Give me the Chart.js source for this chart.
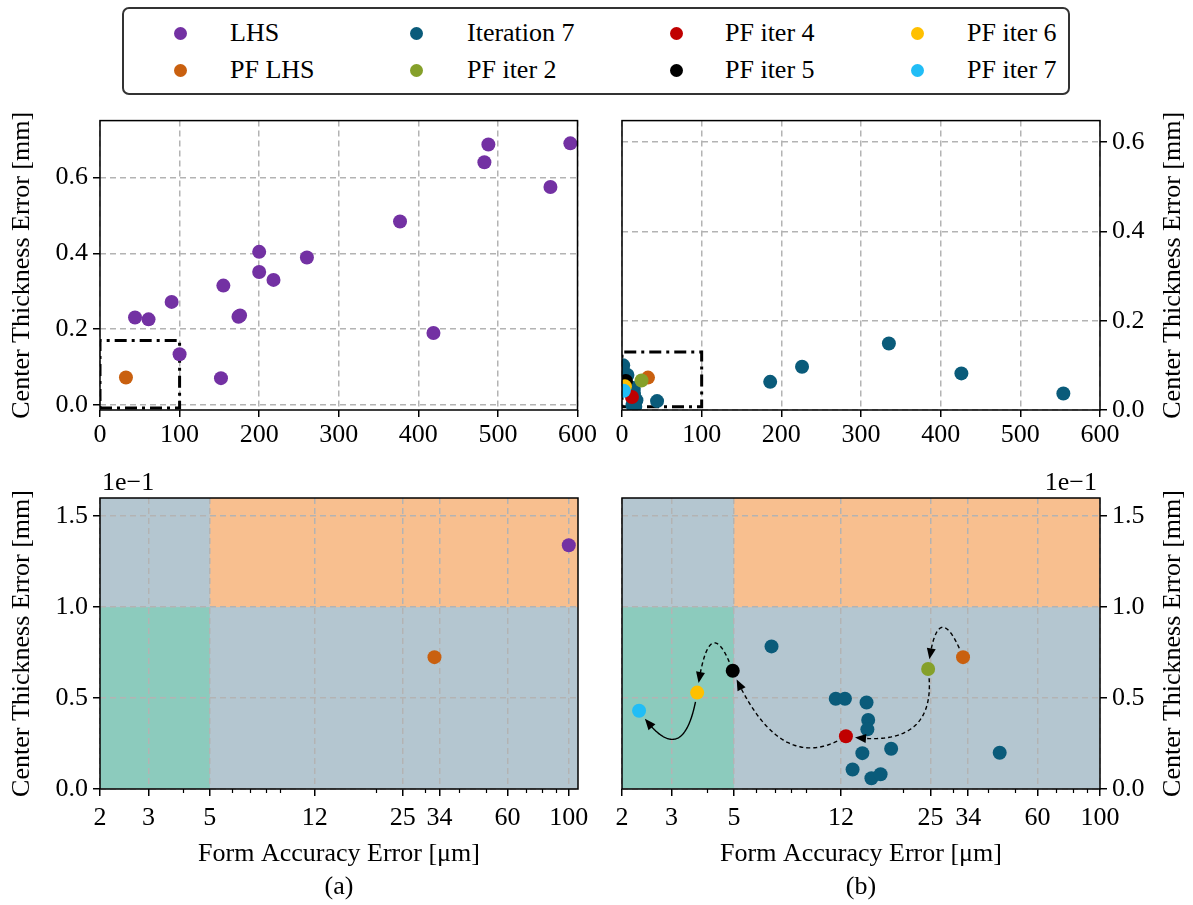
<!DOCTYPE html>
<html>
<head>
<meta charset="utf-8">
<title>Form accuracy vs center thickness error</title>
<script src="https://cdn.jsdelivr.net/npm/chart.js@4.4.1/dist/chart.umd.min.js"></script>
<style>
  html, body { margin: 0; padding: 0; background: #fff; }
  body { position: relative; width: 1193px; height: 905px; overflow: hidden; font-family: "Liberation Serif", "Times New Roman", serif; }
  .box { position: absolute; }
  #legend { position: absolute; left: 122px; top: 7px; width: 944px; height: 84px; border: 2px solid #333; border-radius: 7px; }
  .entry { position: absolute; font-size: 26px; line-height: 30px; white-space: nowrap; color: #000; }
  .dot { position: absolute; width: 13px; height: 13px; border-radius: 50%; }
</style>
</head>
<body>
<div id="legend"></div>
<div class="box" style="left:0;top:100px;width:600px;height:345px"><canvas id="topLeft"></canvas></div>
<div class="box" style="left:600px;top:100px;width:593px;height:345px"><canvas id="topRight"></canvas></div>
<div class="box" style="left:0;top:470px;width:600px;height:435px"><canvas id="bottomLeft"></canvas></div>
<div class="box" style="left:600px;top:470px;width:593px;height:435px"><canvas id="bottomRight"></canvas></div>
<script>
// form accuracy error in µm, center thickness error in mm
const lhsX = [44, 61, 90, 100, 152, 155, 174, 176, 200, 200, 218, 260, 377, 419, 483, 488, 566, 591];
const lhsY = [0.231, 0.226, 0.272, 0.134, 0.071, 0.315, 0.233, 0.236, 0.404, 0.351, 0.330, 0.389, 0.484, 0.190, 0.640, 0.687, 0.575, 0.690];

const iter7X = [1.5, 0.8, 6.8, 11.5, 12.4, 14.8, 15.0, 14.9, 14.3, 18.1, 13.2, 15.4, 16.6, 44, 186, 226, 335, 426, 554];
const iter7Y = [0.100, 0.092, 0.0784, 0.0496, 0.0496, 0.0476, 0.038, 0.0328, 0.0197, 0.0221, 0.0107, 0.0059, 0.0081, 0.0199, 0.063, 0.097, 0.149, 0.082, 0.037];

const pfLhsX = [32.6],   pfLhsY = [0.0725];
const pfIter2X = [24.5], pfIter2Y = [0.066];
const pfIter4X = [12.5], pfIter4Y = [0.029];
const pfIter5X = [4.95], pfIter5Y = [0.065];
const pfIter6X = [3.7],  pfIter6Y = [0.053];
const pfIter7X = [2.3],  pfIter7Y = [0.043];

// axis ticks
const topXTicks = [0, 100, 200, 300, 400, 500, 600];
const topYTicks = [0, 0.2, 0.4, 0.6];
const logTicks = [2, 3, 5, 12, 25, 34, 60, 100];
const logMinorTicks = [4, 6, 7, 8, 9, 20, 30, 40, 50, 70, 80, 90];
const zoomYTicks = [0, 0.5, 1.0, 1.5];

// tolerance limits for the shaded regions
const formLimit = 5;      // µm
const thickLimit = 0.1;   // mm

// dash-dot boxes marking the zoomed area
const boxX = [0, 100];
const boxTopLeftY = [-0.008, 0.17];
const boxTopRightY = [0.007, 0.13];

// bottom plots show thickness in units of 1e-1 mm
const ZOOM = 10;

const FONT = '"Liberation Serif", "Times New Roman", serif';
Chart.defaults.font.family = FONT;
Chart.defaults.font.size = 26;
Chart.defaults.color = '#000';
Chart.defaults.animation = false;

const series = {
  lhs:    { label: 'LHS',         color: '#7331a3', x: lhsX,     y: lhsY },
  pfLhs:  { label: 'PF LHS',      color: '#c9600f', x: pfLhsX,   y: pfLhsY },
  iter7:  { label: 'Iteration 7', color: '#0a5b7a', x: iter7X,   y: iter7Y },
  pf2:    { label: 'PF iter 2',   color: '#85a02a', x: pfIter2X, y: pfIter2Y },
  pf4:    { label: 'PF iter 4',   color: '#c00000', x: pfIter4X, y: pfIter4Y },
  pf5:    { label: 'PF iter 5',   color: '#000000', x: pfIter5X, y: pfIter5Y },
  pf6:    { label: 'PF iter 6',   color: '#ffc000', x: pfIter6X, y: pfIter6Y },
  pf7:    { label: 'PF iter 7',   color: '#21bdf6', x: pfIter7X, y: pfIter7Y }
};

// legend (matplotlib style, 4 columns filled top to bottom)
const legendOrder = ['lhs', 'pfLhs', 'iter7', 'pf2', 'pf4', 'pf5', 'pf6', 'pf7'];
const legendDotX = [180, 416, 676, 917];
const legendTextX = [230, 467, 725, 967];
const legendRowY = [33, 70];
const legendEl = document.getElementById('legend');
legendOrder.forEach((key, i) => {
  const col = Math.floor(i / 2), row = i % 2;
  const dot = document.createElement('div');
  dot.className = 'dot';
  dot.style.background = series[key].color;
  dot.style.left = (legendDotX[col] - 6.5 - 124) + 'px';
  dot.style.top = (legendRowY[row] - 6.5 - 9) + 'px';
  legendEl.appendChild(dot);
  const txt = document.createElement('div');
  txt.className = 'entry';
  txt.textContent = series[key].label;
  txt.style.left = (legendTextX[col] - 124) + 'px';
  txt.style.top = (legendRowY[row] - 15 - 9) + 'px';
  legendEl.appendChild(txt);
});

function scatterSet(key, k, order) {
  const s = series[key];
  return {
    type: 'scatter', label: s.label, order: order,
    data: s.x.map((x, i) => ({ x: x, y: s.y[i] * k })),
    backgroundColor: s.color, borderWidth: 0, pointRadius: 7, pointHoverRadius: 7
  };
}

function boxSet(bx, by) {
  return {
    type: 'line', label: 'zoom', order: 20,
    data: [{x: bx[0], y: by[0]}, {x: bx[1], y: by[0]}, {x: bx[1], y: by[1]}, {x: bx[0], y: by[1]}, {x: bx[0], y: by[0]}],
    borderColor: '#000', borderWidth: 3, borderDash: [12, 5, 3, 5], pointRadius: 0, fill: false, tension: 0
  };
}

const GRID = '#b3b3b3';
function gridOpts() {
  return { color: GRID, lineWidth: 1.5, tickColor: '#000', tickWidth: 1.5, tickLength: 7 };
}
const tickFont = { color: '#000', font: { size: 26 }, autoSkip: false, maxRotation: 0, minRotation: 0 };

function linearAxis(min, max, ticks, fmt, pos, size) {
  const horiz = pos === 'bottom';
  return {
    type: 'linear', position: pos, min: min, max: max,
    afterBuildTicks: s => { s.ticks = ticks.map(v => ({ value: v })); },
    afterFit: s => { if (horiz) s.height = size; else s.width = size; },
    ticks: Object.assign({}, tickFont, { padding: horiz ? 3 : 5, callback: fmt }),
    grid: gridOpts(),
    border: { display: false, dash: [6, 4] }
  };
}

function logAxis(max, label) {
  return {
    type: 'logarithmic', position: 'bottom', min: 2, max: max,
    afterBuildTicks: s => { s.ticks = logTicks.map(v => ({ value: v })); },
    afterFit: s => { s.height = 116; },
    ticks: Object.assign({}, tickFont, { padding: 7, callback: v => String(v) }),
    grid: gridOpts(),
    border: { display: false, dash: [6, 4] },
    title: { display: true, text: ['Form Accuracy Error [μm]', label], color: '#000',
             font: { size: 26, lineHeight: 1.25 }, padding: { top: 0, bottom: 2 } }
  };
}

const yTitle = { display: true, text: 'Center Thickness Error [mm]', color: '#000',
                 font: { size: 26, lineHeight: 1.2 }, padding: { top: 7, bottom: 0 } };

// arrows between consecutive pareto fronts (bottom right plot)
const pfChain = ['pfLhs', 'pf2', 'pf4', 'pf5', 'pf6', 'pf7'];
const arrowRad = [1.9, -0.67, -0.53, 1.63, -1.24];
const arrowSkew = [-0.40, -0.09, -0.22, -0.83, 0.12];
const arrowDashed = [true, true, true, true, false];

function drawArrow(ctx, p, q, rad, skew, dashed, r) {
  const dx = q.x - p.x, dy = q.y - p.y;
  const cx = (p.x + q.x) / 2 - rad * dy + skew * dx;
  const cy = (p.y + q.y) / 2 + rad * dx + skew * dy;
  const pts = [];
  for (let i = 0; i <= 120; i++) {
    const t = i / 120, u = 1 - t;
    pts.push({ x: u * u * p.x + 2 * u * t * cx + t * t * q.x, y: u * u * p.y + 2 * u * t * cy + t * t * q.y });
  }
  const path = pts.filter(pt => Math.hypot(pt.x - p.x, pt.y - p.y) > r + 2 && Math.hypot(pt.x - q.x, pt.y - q.y) > r + 2);
  if (path.length < 4) return;
  const tip = path[path.length - 1];
  let back = path[path.length - 2];
  for (let i = path.length - 2; i >= 0; i--) { back = path[i]; if (Math.hypot(tip.x - back.x, tip.y - back.y) > 10) break; }
  const line = path.filter(pt => Math.hypot(pt.x - tip.x, pt.y - tip.y) > 8);
  ctx.save();
  ctx.strokeStyle = '#000';
  ctx.lineWidth = 1.4;
  ctx.setLineDash(dashed ? [4, 3] : []);
  ctx.beginPath();
  line.forEach((pt, i) => i ? ctx.lineTo(pt.x, pt.y) : ctx.moveTo(pt.x, pt.y));
  ctx.stroke();
  const ang = Math.atan2(tip.y - back.y, tip.x - back.x);
  ctx.setLineDash([]);
  ctx.fillStyle = '#000';
  ctx.beginPath();
  ctx.moveTo(tip.x, tip.y);
  ctx.lineTo(tip.x - 11 * Math.cos(ang) + 4.5 * Math.sin(ang), tip.y - 11 * Math.sin(ang) - 4.5 * Math.cos(ang));
  ctx.lineTo(tip.x - 11 * Math.cos(ang) - 4.5 * Math.sin(ang), tip.y - 11 * Math.sin(ang) + 4.5 * Math.cos(ang));
  ctx.closePath();
  ctx.fill();
  ctx.restore();
}

function panelDecor(opts) {
  return {
    id: 'panelDecor',
    beforeDraw(chart) {
      if (!opts.regions) return;
      const { ctx, chartArea: a } = chart;
      const xl = chart.scales.x.getPixelForValue(formLimit);
      const yl = chart.scales.y.getPixelForValue(thickLimit * ZOOM);
      ctx.save();
      ctx.fillStyle = '#b4c6d0';
      ctx.fillRect(a.left, a.top, a.width, a.height);
      ctx.fillStyle = '#8ccbbd';
      ctx.fillRect(a.left, yl, xl - a.left, a.bottom - yl);
      ctx.fillStyle = '#f8bf8f';
      ctx.fillRect(xl, a.top, a.right - xl, yl - a.top);
      ctx.restore();
    },
    afterDraw(chart) {
      const { ctx, chartArea: a } = chart;
      const xs = chart.scales.x, ys = chart.scales.y;
      if (opts.arrows) {
        ctx.save();
        ctx.beginPath();
        ctx.rect(a.left, a.top, a.width, a.height);
        ctx.clip();
        for (let i = 0; i < pfChain.length - 1; i++) {
          const s0 = series[pfChain[i]], s1 = series[pfChain[i + 1]];
          const p = { x: xs.getPixelForValue(s0.x[0]), y: ys.getPixelForValue(s0.y[0] * ZOOM) };
          const q = { x: xs.getPixelForValue(s1.x[0]), y: ys.getPixelForValue(s1.y[0] * ZOOM) };
          drawArrow(ctx, p, q, arrowRad[i], arrowSkew[i], arrowDashed[i], 7);
        }
        ctx.restore();
      }
      ctx.save();
      if (opts.minor) {
        ctx.strokeStyle = '#000';
        ctx.lineWidth = 1.2;
        logMinorTicks.forEach(v => {
          const px = Math.round(xs.getPixelForValue(v)) + 0.5;
          if (px < a.left || px > a.right) return;
          ctx.beginPath();
          ctx.moveTo(px, a.bottom);
          ctx.lineTo(px, a.bottom + 4);
          ctx.stroke();
        });
      }
      ctx.strokeStyle = '#000';
      ctx.lineWidth = 1.5;
      ctx.strokeRect(a.left, a.top, a.width, a.height);
      ctx.fillStyle = '#000';
      ctx.font = '26px ' + FONT;
      ctx.textBaseline = 'middle';
      if (opts.offsetText === 'left') {
        ctx.textAlign = 'left';
        ctx.fillText('1e\u22121', a.left + 2, a.top - 15);
      } else if (opts.offsetText === 'right') {
        ctx.textAlign = 'right';
        ctx.fillText('1e\u22121', a.right - 3, a.top - 15);
      }
      if (opts.rightTitle) {
        ctx.translate(chart.width - 20, (a.top + a.bottom) / 2);
        ctx.rotate(-Math.PI / 2);
        ctx.textAlign = 'center';
        ctx.fillText('Center Thickness Error [mm]', 0, 0);
      }
      ctx.restore();
    }
  };
}

const baseOptions = (padding, scales) => ({
  responsive: true, maintainAspectRatio: false, animation: false, events: [],
  layout: { padding: padding },
  plugins: { legend: { display: false }, tooltip: { enabled: false }, title: { display: false } },
  scales: scales
});

const fmt1 = v => Number(v).toFixed(1);

// (a) top: all LHS samples
const tlY = linearAxis(-0.013, 0.75, topYTicks, fmt1, 'left', 100);
tlY.title = yTitle;
new Chart(document.getElementById('topLeft'), {
  type: 'scatter',
  data: { datasets: [boxSet(boxX, boxTopLeftY), scatterSet('lhs', 1, 2), scatterSet('pfLhs', 1, 1)] },
  options: baseOptions({ left: 0, right: 22, top: 19, bottom: 0 }, {
    x: linearAxis(0, 600, topXTicks, v => String(v), 'bottom', 35),
    y: tlY
  }),
  plugins: [panelDecor({})]
});

// (b) top: iteration 7 and pareto fronts
new Chart(document.getElementById('topRight'), {
  type: 'scatter',
  data: { datasets: [boxSet(boxX, boxTopRightY), scatterSet('iter7', 1, 8), scatterSet('pfLhs', 1, 7),
    scatterSet('pf2', 1, 6), scatterSet('pf4', 1, 5), scatterSet('pf5', 1, 4), scatterSet('pf6', 1, 3), scatterSet('pf7', 1, 2)] },
  options: baseOptions({ left: 22, right: 0, top: 19, bottom: 0 }, {
    x: linearAxis(0, 600, topXTicks, v => String(v), 'bottom', 35),
    y: linearAxis(0, 0.648, topYTicks, fmt1, 'right', 93)
  }),
  plugins: [panelDecor({ rightTitle: true })]
});

// (a) bottom: zoom on the tolerance area
const blY = linearAxis(0, 1.6, zoomYTicks, fmt1, 'left', 100);
blY.title = yTitle;
new Chart(document.getElementById('bottomLeft'), {
  type: 'scatter',
  data: { datasets: [scatterSet('lhs', ZOOM, 2), scatterSet('pfLhs', ZOOM, 1)] },
  options: baseOptions({ left: 0, right: 22, top: 28, bottom: 0 }, {
    x: logAxis(108, '(a)'),
    y: blY
  }),
  plugins: [panelDecor({ regions: true, minor: true, offsetText: 'left' })]
});

// (b) bottom: zoom with pareto front progression
new Chart(document.getElementById('bottomRight'), {
  type: 'scatter',
  data: { datasets: [scatterSet('iter7', ZOOM, 8), scatterSet('pfLhs', ZOOM, 7), scatterSet('pf2', ZOOM, 6),
    scatterSet('pf4', ZOOM, 5), scatterSet('pf5', ZOOM, 4), scatterSet('pf6', ZOOM, 3), scatterSet('pf7', ZOOM, 2)] },
  options: baseOptions({ left: 22, right: 0, top: 28, bottom: 0 }, {
    x: logAxis(100, '(b)'),
    y: linearAxis(0, 1.6, zoomYTicks, fmt1, 'right', 93)
  }),
  plugins: [panelDecor({ regions: true, minor: true, offsetText: 'right', arrows: true, rightTitle: true })]
});
</script>
</body>
</html>
